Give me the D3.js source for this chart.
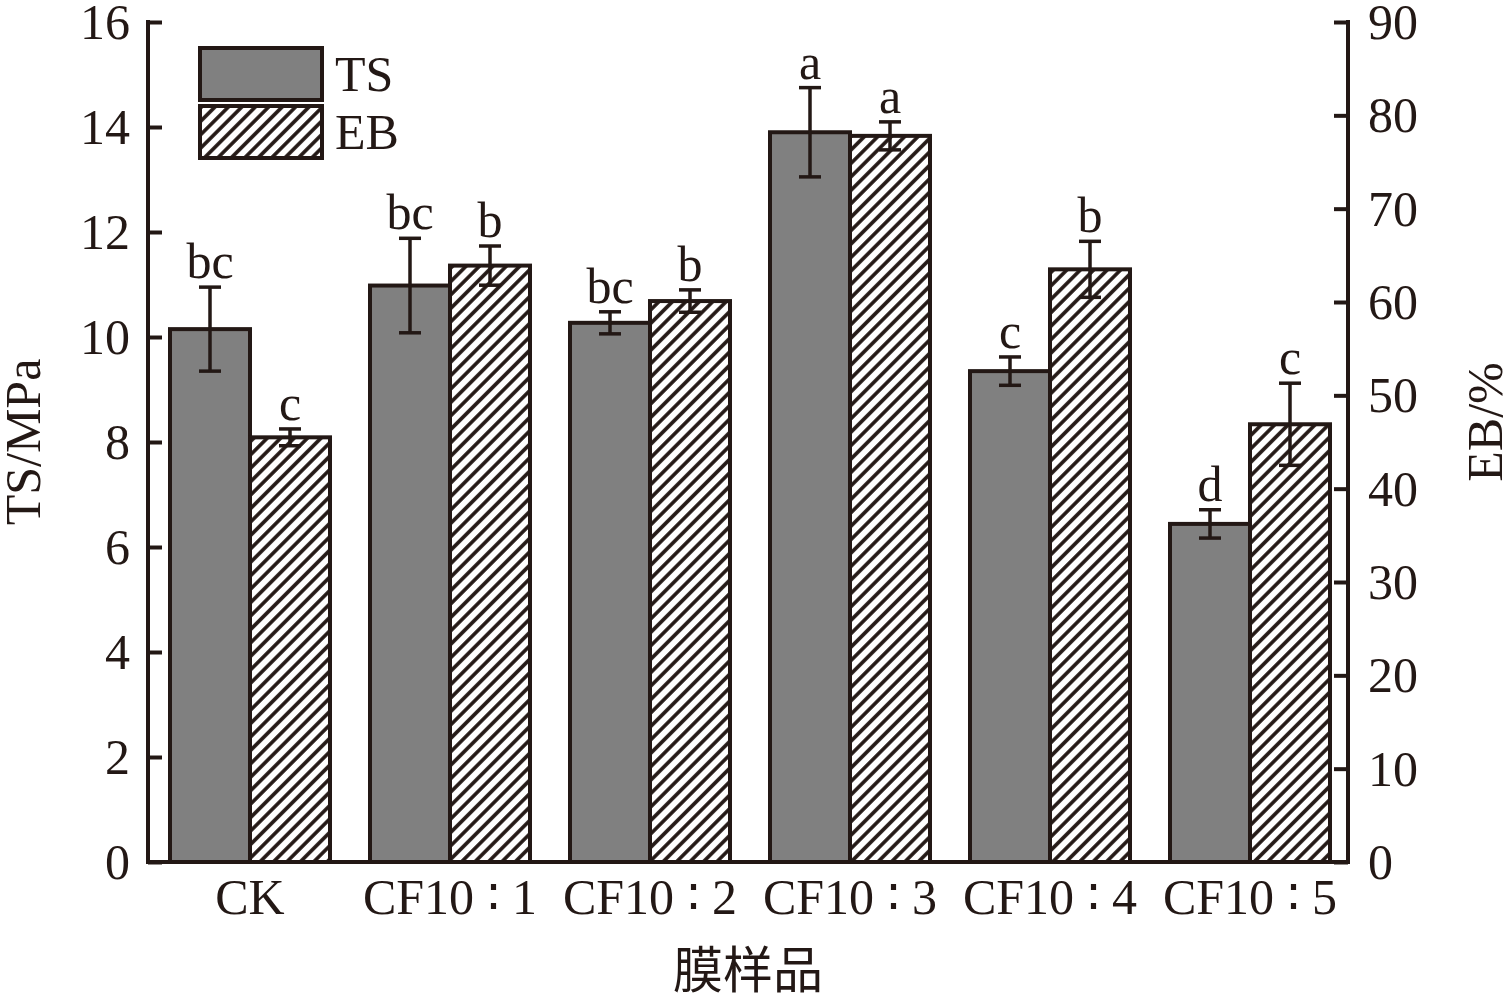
<!DOCTYPE html>
<meta charset="utf-8">
<title>TS / EB</title>
<style>
    body { margin: 0; background: #fff; }
    text { font-family: "Liberation Serif", "DejaVu Serif", serif; fill: #231815; }
    .cn { font-family: "Noto Sans CJK SC", sans-serif; }
</style>

<body>
    <script src="https://d3js.org/d3.v7.min.js" charset="utf-8"></script>
    <script>
        // ---- data ----
        var samples = ["CK", "CF10 ∶ 1", "CF10 ∶ 2", "CF10 ∶ 3", "CF10 ∶ 4", "CF10 ∶ 5"];
        var tsValues = [10.15, 10.98, 10.27, 13.9, 9.35, 6.44];
        var tsErrors = [0.8, 0.9, 0.21, 0.85, 0.27, 0.27];
        var tsLetters = ["bc", "bc", "bc", "a", "c", "d"];
        var ebValues = [45.5, 63.9, 60.1, 77.8, 63.5, 46.9];
        var ebErrors = [0.9, 2.1, 1.2, 1.5, 3.0, 4.4];
        var ebLetters = ["c", "b", "b", "a", "b", "c"];
        var tsTicks = [0, 2, 4, 6, 8, 10, 12, 14, 16];
        var ebTicks = [0, 10, 20, 30, 40, 50, 60, 70, 80, 90];

        var width = 1507,
            height = 999;
        var plotL = 148, plotR = 1348, plotT = 22, plotB = 862;
        var ink = "#231815";

        var svg = d3.select("body").append("svg")
            .attr("width", width)
            .attr("height", height);

        // diagonal hatching for EB bars
        var pat = svg.append("defs").append("pattern")
            .attr("id", "hatch")
            .attr("patternUnits", "userSpaceOnUse")
            .attr("width", 9.5)
            .attr("height", 9.5)
            .attr("patternTransform", "rotate(45)");
        pat.append("rect").attr("width", 9.5).attr("height", 9.5).attr("fill", "#fff");
        pat.append("line")
            .attr("x1", 4.75).attr("y1", -1).attr("x2", 4.75).attr("y2", 10.5)
            .attr("stroke", ink).attr("stroke-width", 3.6);

        // 6 groups on 200px steps, each 160px wide (two 80px bars)
        var x = d3.scaleBand()
            .domain(samples)
            .range([plotL + 2, plotR + 2])
            .paddingInner(0.2)
            .paddingOuter(0.1);
        var sub = d3.scaleBand()
            .domain(["TS", "EB"])
            .range([0, x.bandwidth()]);
        var yTS = d3.scaleLinear().domain([0, 16]).range([plotB, plotT]);
        var yEB = d3.scaleLinear().domain([0, 90]).range([plotB, plotT]);

        var groups = svg.append("g");

        function drawSeries(key, vals, errs, letters, y, fill) {
            var g = groups.append("g");
            samples.forEach(function (s, i) {
                var bx = x(s) + sub(key);
                var w = sub.bandwidth();
                g.append("rect")
                    .attr("x", bx)
                    .attr("y", y(vals[i]))
                    .attr("width", w)
                    .attr("height", y(0) - y(vals[i]))
                    .attr("fill", fill)
                    .attr("stroke", ink)
                    .attr("stroke-width", 4);
                var cx = bx + w / 2;
                var hi = y(vals[i] + errs[i]), lo = y(vals[i] - errs[i]);
                g.append("line").attr("x1", cx).attr("x2", cx).attr("y1", hi).attr("y2", lo)
                    .attr("stroke", ink).attr("stroke-width", 3.5);
                [hi, lo].forEach(function (yy) {
                    g.append("line").attr("x1", cx - 11).attr("x2", cx + 11).attr("y1", yy).attr("y2", yy)
                        .attr("stroke", ink).attr("stroke-width", 3.5);
                });
                g.append("text")
                    .attr("x", cx)
                    .attr("y", hi - 9)
                    .attr("text-anchor", "middle")
                    .style("font-size", "50px")
                    .text(letters[i]);
            });
        }

        drawSeries("TS", tsValues, tsErrors, tsLetters, yTS, "#808080");
        drawSeries("EB", ebValues, ebErrors, ebLetters, yEB, "url(#hatch)");

        // axes
        var leftAxis = d3.axisLeft(yTS).tickValues(tsTicks).tickSize(-14).tickPadding(18);
        var rightAxis = d3.axisRight(yEB).tickValues(ebTicks).tickSize(-14).tickPadding(20);

        var gl = svg.append("g").attr("transform", "translate(" + plotL + ",0)").call(leftAxis);
        var gr = svg.append("g").attr("transform", "translate(" + plotR + ",0)").call(rightAxis);
        [gl, gr].forEach(function (g) {
            g.select(".domain").attr("stroke", ink).attr("stroke-width", 4)
                .attr("d", "M0," + (plotT - 2) + "V" + (plotB + 2));
            g.selectAll(".tick line").attr("stroke", ink).attr("stroke-width", 4);
            g.selectAll(".tick text")
                .style("font-family", "'Liberation Serif', serif")
                .style("font-size", "50px")
                .attr("fill", ink)
                .attr("dy", "0.33em");
        });

        var bottomAxis = d3.axisBottom(x).tickSize(0).tickPadding(16);
        var gb = svg.append("g").attr("transform", "translate(0," + plotB + ")").call(bottomAxis);
        gb.select(".domain").attr("stroke", ink).attr("stroke-width", 4)
            .attr("d", "M" + (plotL - 2) + ",0H" + (plotR + 2));
        gb.selectAll(".tick text")
            .style("font-family", "'Liberation Serif', 'DejaVu Serif', serif")
            .style("font-size", "50px")
            .attr("fill", ink)
            .attr("dy", "0.72em");

        // axis titles
        svg.append("text")
            .attr("transform", "translate(40," + ((plotT + plotB) / 2) + ") rotate(-90)")
            .attr("text-anchor", "middle")
            .style("font-size", "50px")
            .text("TS/MPa");
        svg.append("text")
            .attr("transform", "translate(1502," + ((plotT + plotB) / 2 - 20) + ") rotate(-90)")
            .attr("text-anchor", "middle")
            .style("font-size", "50px")
            .text("EB/%");
        svg.append("text")
            .attr("class", "cn")
            .attr("x", (plotL + plotR) / 2)
            .attr("y", 988)
            .attr("text-anchor", "middle")
            .style("font-size", "50px")
            .text("膜样品");

        // legend
        var legend = svg.append("g").attr("transform", "translate(200,48)");
        [["TS", "#808080"], ["EB", "url(#hatch)"]].forEach(function (d, i) {
            legend.append("rect")
                .attr("x", 0)
                .attr("y", i * 58)
                .attr("width", 122)
                .attr("height", 52)
                .attr("fill", d[1])
                .attr("stroke", ink)
                .attr("stroke-width", 4);
            legend.append("text")
                .attr("x", 135)
                .attr("y", i * 58 + 43)
                .style("font-size", "50px")
                .text(d[0]);
        });
    </script>
